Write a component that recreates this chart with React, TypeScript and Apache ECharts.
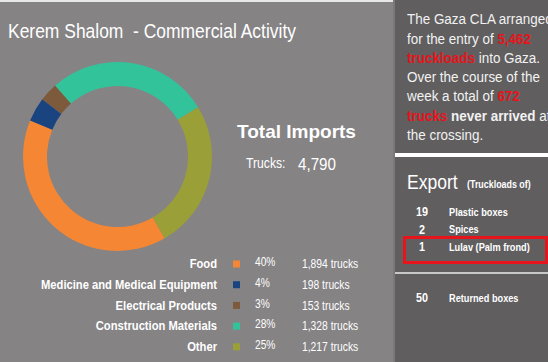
import React, { useEffect, useRef } from "react";
import * as echarts from "echarts";

const categories = ["Food", "Medicine and Medical Equipment", "Electrical Products", "Construction Materials", "Other"];
const truckCounts = [1894, 198, 153, 1328, 1217];
const percentLabels = ["40%", "4%", "3%", "28%", "25%"];
const sliceColors = ["#f58634", "#1a4480", "#7e5a3c", "#33c39b", "#9b9f38"];
const totalImports = 4790;
const exportCounts = [19, 2, 1];
const exportItems = ["Plastic boxes", "Spices", "Lulav (Palm frond)"];
const returnedBoxes = 50;

const SANS = '"Liberation Sans", Arial, sans-serif';

function fmt(n: number) {
  return n.toLocaleString("en-US");
}

function txt(text: string, x: number, y: number, font: string, sx: number, align: string = "left", fill: string = "#ffffff") {
  return { type: "text", x, y, scaleX: sx, style: { text, fill, font: `${font} ${SANS}`, align, verticalAlign: "middle" } };
}

export default function App() {
  const ref = useRef<HTMLDivElement>(null);
  useEffect(() => {
    if (!ref.current) return;
    const chart = echarts.init(ref.current, null, { renderer: "svg" });
    const legendRows: any[] = [];
    const rowY0 = 264;
    const rowStep = 20.7;
    categories.forEach((c, i) => {
      const y = rowY0 + i * rowStep;
      legendRows.push(
        txt(c, 217, y, "bold 13.5px", 0.83, "right"),
        { type: "rect", shape: { x: 233, y: y - 3.5, width: 7, height: 7 }, style: { fill: sliceColors[i] } },
        txt(percentLabels[i], 255, y - 2, "12px", 0.85),
        txt(`${fmt(truckCounts[i])} trucks`, 302, y, "12px", 0.86)
      );
    });
    const exportRows: any[] = [];
    exportCounts.forEach((n, i) => {
      const y = 212 + i * 17.5;
      exportRows.push(
        txt(String(n), 422, y, "bold 12px", 0.9, "center"),
        txt(exportItems[i], 449, y, "bold 11.5px", 0.8)
      );
    });
    const para =
      "{w|The Gaza CLA arranged}\n" +
      "{w|for the entry of }{r|5,462}\n" +
      "{r|truckloads}{w| into Gaza.}\n" +
      "{w|Over the course of the}\n" +
      "{w|week a total of }{r|672}\n" +
      "{r|trucks}{b| never arrived}{w| at}\n" +
      "{w|the crossing.}";
    chart.setOption({
      animation: false,
      graphic: [
        { type: "rect", z: -10, shape: { x: 0, y: 0, width: 395, height: 362 }, style: { fill: "#858384" } },
        { type: "rect", z: -10, shape: { x: 0, y: 0, width: 395, height: 2 }, style: { fill: "#e8e8e8" } },
        { type: "rect", z: -10, shape: { x: 395, y: 0, width: 153, height: 362 }, style: { fill: "#605e5f" } },
        { type: "rect", z: -9, shape: { x: 393, y: 0, width: 2, height: 362 }, style: { fill: "#7a7879" } },
        txt("Kerem Shalom  - Commercial Activity", 8, 31, "19.5px", 0.895),
        txt("Total Imports", 237, 131, "bold 19px", 1),
        txt("Trucks:", 246, 163, "14.5px", 0.84),
        txt(fmt(totalImports), 298, 164, "16px", 0.95),
        ...legendRows,
        {
          type: "text", x: 407, y: 10, scaleX: 0.96,
          style: {
            text: para, fill: "#f2f2f2", font: `14px ${SANS}`, verticalAlign: "top",
            rich: {
              w: { fill: "#f2f2f2", font: `14px ${SANS}`, lineHeight: 19.3 },
              r: { fill: "#e8141b", font: `bold 14px ${SANS}`, lineHeight: 19.3 },
              b: { fill: "#f2f2f2", font: `bold 14px ${SANS}`, lineHeight: 19.3 },
            },
          },
        },
        { type: "rect", shape: { x: 395, y: 153, width: 153, height: 4 }, style: { fill: "#ffffff" } },
        txt("Export", 407, 182, "19.5px", 0.9),
        txt("(Truckloads of)", 467, 184, "bold 10px", 0.89),
        ...exportRows,
        { type: "rect", shape: { x: 404.5, y: 237.5, width: 142, height: 25 }, style: { fill: "none", stroke: "#e8141b", lineWidth: 3 } },
        { type: "rect", shape: { x: 395, y: 272, width: 153, height: 2 }, style: { fill: "#c8c8c8" } },
        txt(String(returnedBoxes), 422, 298, "bold 12px", 0.9, "center"),
        txt("Returned boxes", 449, 298, "bold 11.5px", 0.8),
      ],
      series: [
        {
          type: "pie",
          center: [117.5, 156.5],
          radius: [70.5, 94.5],
          startAngle: -60,
          clockwise: true,
          silent: true,
          label: { show: false },
          labelLine: { show: false },
          emphasis: { disabled: true },
          itemStyle: { borderWidth: 0 },
          data: categories.map((c, i) => ({ name: c, value: truckCounts[i], itemStyle: { color: sliceColors[i] } })),
        },
      ],
    });
    return () => chart.dispose();
  }, []);
  return <div ref={ref} style={{ position: "absolute", left: 0, top: 0, width: 548, height: 362 }} />;
}
